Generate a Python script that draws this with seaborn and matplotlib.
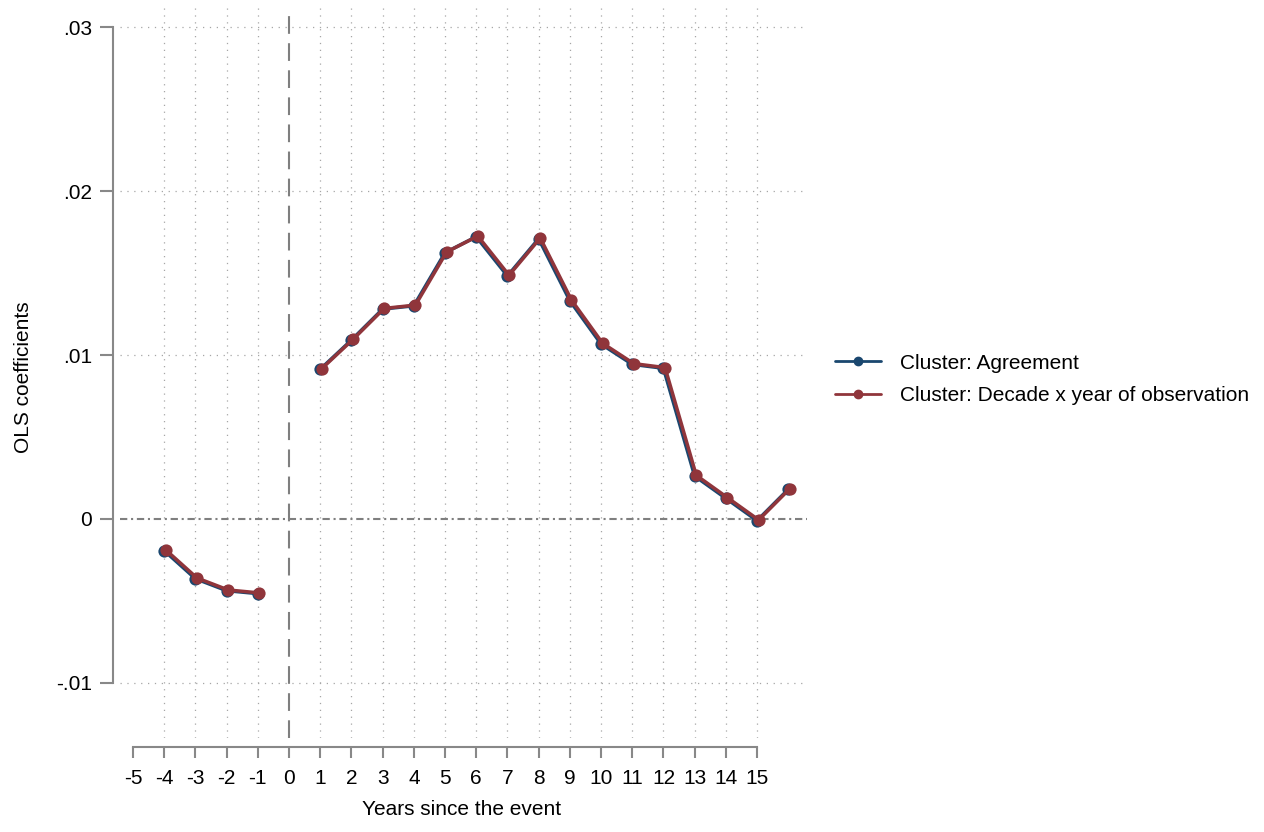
import numpy as np
import pandas as pd
import matplotlib
matplotlib.use("Agg")
import matplotlib.pyplot as plt
import seaborn as sns
from matplotlib.transforms import ScaledTranslation
from matplotlib.lines import Line2D

# Event-study coefficients by years since the event (no estimate at year 0)
years = [-4, -3, -2, -1, 1, 2, 3, 4, 5, 6, 7, 8, 9, 10, 11, 12, 13, 14, 15, 16]
coef_agreement = [-0.00193, -0.00364, -0.00437, -0.00455,
                  0.00913, 0.01091, 0.01280, 0.01300, 0.01624, 0.01721,
                  0.01482, 0.01709, 0.01331, 0.01067, 0.00943, 0.00919,
                  0.00262, 0.00126, -0.00010, 0.00181]
coef_decade = [-0.00193, -0.00364, -0.00437, -0.00455,
               0.00913, 0.01091, 0.01280, 0.01300, 0.01624, 0.01721,
               0.01482, 0.01709, 0.01331, 0.01067, 0.00943, 0.00919,
               0.00262, 0.00126, -0.00010, 0.00181]
series_labels = ["Cluster: Agreement", "Cluster: Decade x year of observation"]
series_colors = ["#1a476f", "#90353b"]

x_ticks = list(range(-5, 16))
y_ticks = [-0.01, 0.0, 0.01, 0.02, 0.03]
y_tick_labels = ["-.01", "0", ".01", ".02", ".03"]

rows = []
for label, coefs in zip(series_labels, [coef_agreement, coef_decade]):
    for yr, c in zip(years, coefs):
        rows.append({"series": label, "year": yr, "coef": c,
                     "segment": "pre" if yr < 0 else "post"})
df = pd.DataFrame(rows)

sns.set_style("white")
plt.rcParams["font.family"] = ["Liberation Sans", "DejaVu Sans"]
plt.rcParams["text.color"] = "black"
plt.rcParams["axes.labelcolor"] = "black"

FS = 15
W, H = 1264, 832
fig = plt.figure(figsize=(W / 100, H / 100), dpi=100)
ax = fig.add_axes([120 / W, 1 - 738 / H, (807 - 120) / W, (738 - 8) / H])

ax.set_xlim(-5.417, 16.60)
ax.set_ylim(-0.013354, 0.031159)

grid_kw = dict(color="#a6a6a6", lw=0.9, ls=(0, (1, 4.5)), zorder=0)
for xv in x_ticks[1:]:
    if xv != 0:
        ax.axvline(xv, **grid_kw)
for yv in y_ticks:
    if yv != 0:
        ax.axhline(yv, **grid_kw)

ref_color = "#7f7f7f"
ax.axhline(0, color=ref_color, lw=1.5, ls=(0, (3.5, 1.8, 1.0, 1.8)), zorder=1)
ax.axvline(0, color=ref_color, lw=1.5, ls=(0, (8.5, 4.5)), zorder=1)

shifts = [(0.0, 0.0), (0.016, 0.007)]
for (label, color), (dx, dy) in zip(zip(series_labels, series_colors), shifts):
    sub = df[df["series"] == label]
    n0 = len(ax.lines)
    sns.lineplot(data=sub, x="year", y="coef", units="segment", estimator=None,
                 color=color, lw=2.5, marker="o", markersize=8.8,
                 markeredgecolor=color, markeredgewidth=0, legend=False,
                 ax=ax, zorder=3)
    for ln in ax.lines[n0:]:
        ln.set_transform(ax.transData + ScaledTranslation(dx, dy, fig.dpi_scale_trans))

spine_color = "#888888"
for side in ["top", "right"]:
    ax.spines[side].set_visible(False)
ax.spines["left"].set_position(("outward", 5))
ax.spines["left"].set_bounds(-0.01, 0.03)
ax.spines["bottom"].set_position(("outward", 6.5))
ax.spines["bottom"].set_bounds(-5, 15)
for side in ["left", "bottom"]:
    ax.spines[side].set_color(spine_color)
    ax.spines[side].set_linewidth(1.5)

ax.set_xticks(x_ticks)
ax.set_xticklabels([str(v) for v in x_ticks])
ax.set_yticks(y_ticks)
ax.set_yticklabels(y_tick_labels)
ax.tick_params(axis="x", bottom=True, direction="out", length=8, width=1.5,
               color=spine_color, pad=7.5, labelsize=FS, labelcolor="black")
ax.tick_params(axis="y", left=True, direction="out", length=9.4, width=1.5,
               color=spine_color, pad=5.5, labelsize=FS, labelcolor="black")

ax.set_xlabel("Years since the event", fontsize=FS, color="black")
ax.set_ylabel("OLS coefficients", fontsize=FS, color="black")
ax.xaxis.set_label_coords(0.497, -0.0850)
ax.yaxis.set_label_coords(-0.1266, 0.4938)

handles = [Line2D([], [], color=c, lw=2, marker="o", markersize=6,
                  markeredgecolor=c) for c in series_colors]
fig.legend(handles, series_labels, loc="center left",
           bbox_to_anchor=(835 / W, 1 - 379.5 / H), frameon=False,
           borderpad=0, borderaxespad=0, handlelength=2.2,
           handletextpad=0.9, labelspacing=0.65, fontsize=FS,
           labelcolor="black")

fig.savefig("out.png", dpi=100)
